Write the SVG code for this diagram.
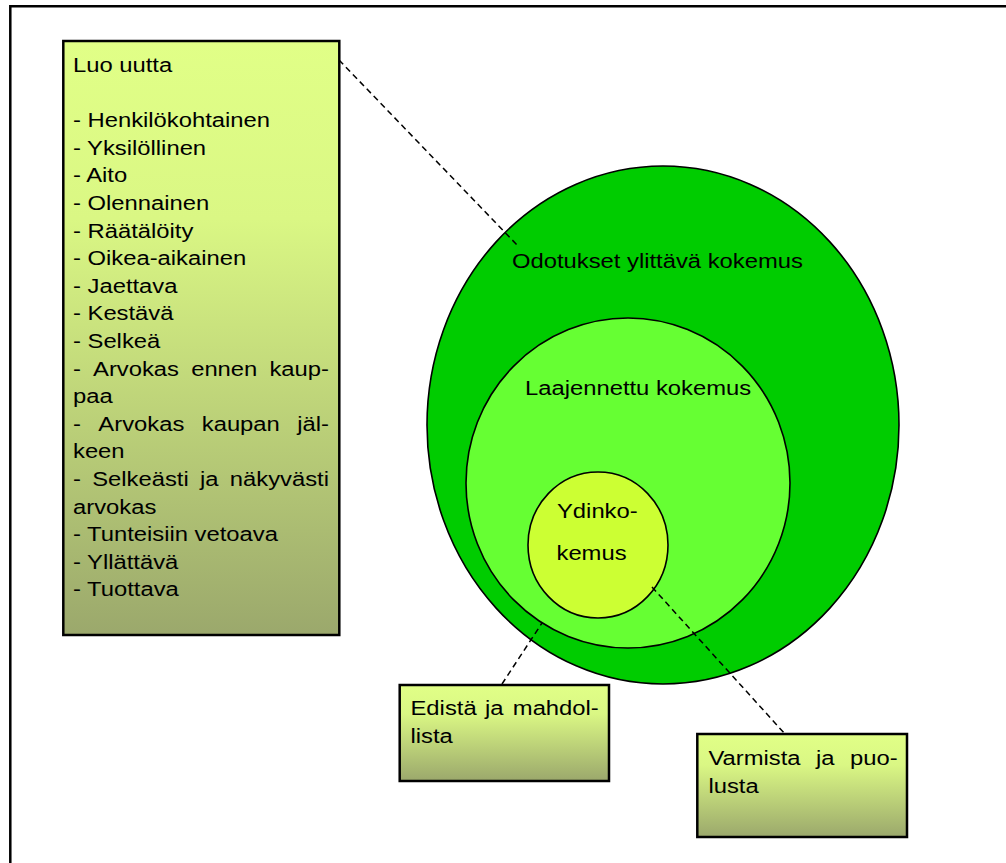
<svg xmlns="http://www.w3.org/2000/svg" width="1006" height="863" viewBox="0 0 1006 863">
<defs>
<linearGradient id="boxGrad" x1="0" y1="0" x2="0" y2="1">
<stop offset="0" stop-color="#E1FF87"/>
<stop offset="0.3" stop-color="#DAF784"/>
<stop offset="1" stop-color="#9BA86C"/>
</linearGradient>
<style>
.t{font-family:"Liberation Sans",Arial,sans-serif;font-size:20px;fill:#000}
.box{fill:url(#boxGrad);stroke:#000;stroke-width:2.5}
.circ{stroke:#000;stroke-width:1.6}
.dash{fill:none;stroke:#000;stroke-width:1.5;stroke-dasharray:6 4}
</style>
</defs>
<rect width="1006" height="863" fill="#fff"/>
<path d="M10.3,863 V6.2 H1006" fill="none" stroke="#000" stroke-width="2.5"/>

<g id="outer-circle">
<ellipse class="circ" cx="663" cy="425" rx="236" ry="259" fill="#00CC00"/>
<text class="t" transform="translate(512,268) scale(1.19,1)">Odotukset ylittävä kokemus</text>
</g>
<g id="middle-circle">
<ellipse class="circ" cx="628" cy="483" rx="162" ry="165" fill="#66FF33"/>
<text class="t" transform="translate(525,395) scale(1.19,1)">Laajennettu kokemus</text>
</g>
<g id="inner-circle">
<ellipse class="circ" cx="598" cy="545" rx="70" ry="73" fill="#CCFF33"/>
<text class="t" transform="translate(557,518) scale(1.19,1)">Ydinko-</text>
<text class="t" transform="translate(556.5,560) scale(1.19,1)">kemus</text>
</g>

<g id="connectors">
<line class="dash" x1="339" y1="60" x2="519" y2="247"/>
<line class="dash" x1="502" y1="684" x2="542" y2="623"/>
<line class="dash" x1="652" y1="587" x2="785" y2="734"/>
</g>

<g id="luo-uutta">
<rect class="box" x="63.3" y="41" width="276" height="594"/>
<text class="t" transform="translate(73,0) scale(1.19,1)">
<tspan x="0" y="72">Luo uutta</tspan>
<tspan x="0" y="127.2">- Henkilökohtainen</tspan>
<tspan x="0" y="154.8">- Yksilöllinen</tspan>
<tspan x="0" y="182.4">- Aito</tspan>
<tspan x="0" y="210">- Olennainen</tspan>
<tspan x="0" y="237.6">- Räätälöity</tspan>
<tspan x="0" y="265.2">- Oikea-aikainen</tspan>
<tspan x="0" y="292.8">- Jaettava</tspan>
<tspan x="0" y="320.4">- Kestävä</tspan>
<tspan x="0" y="348">- Selkeä</tspan>
<tspan x="0" y="375.6">-</tspan><tspan x="16.86" y="375.6">Arvokas</tspan><tspan x="99.3" y="375.6">ennen</tspan><tspan x="165.1" y="375.6">kaup-</tspan>
<tspan x="0" y="403.2">paa</tspan>
<tspan x="0" y="430.8">-</tspan><tspan x="21.32" y="430.8">Arvokas</tspan><tspan x="108.22" y="430.8">kaupan</tspan><tspan x="188.48" y="430.8">jäl-</tspan>
<tspan x="0" y="458.4">keen</tspan>
<tspan x="0" y="486">-</tspan><tspan x="16.13" y="486">Selkeästi</tspan><tspan x="106.74" y="486">ja</tspan><tspan x="131.77" y="486">näkyvästi</tspan>
<tspan x="0" y="513.6">arvokas</tspan>
<tspan x="0" y="541.2">- Tunteisiin vetoava</tspan>
<tspan x="0" y="568.8">- Yllättävä</tspan>
<tspan x="0" y="596.4">- Tuottava</tspan>
</text>
</g>

<g id="edista">
<rect class="box" x="399.7" y="685" width="209.3" height="96"/>
<text class="t" transform="translate(410.5,0) scale(1.19,1)">
<tspan x="0" y="715">Edistä</tspan><tspan x="62.6" y="715">ja</tspan><tspan x="86" y="715">mahdol-</tspan>
<tspan x="0" y="743">lista</tspan>
</text>
</g>

<g id="varmista">
<rect class="box" x="697.3" y="734" width="209.7" height="103"/>
<text class="t" transform="translate(708.4,0) scale(1.19,1)">
<tspan x="0" y="765">Varmista</tspan><tspan x="90.4" y="765">ja</tspan><tspan x="119" y="765">puo-</tspan>
<tspan x="0" y="793">lusta</tspan>
</text>
</g>
</svg>
